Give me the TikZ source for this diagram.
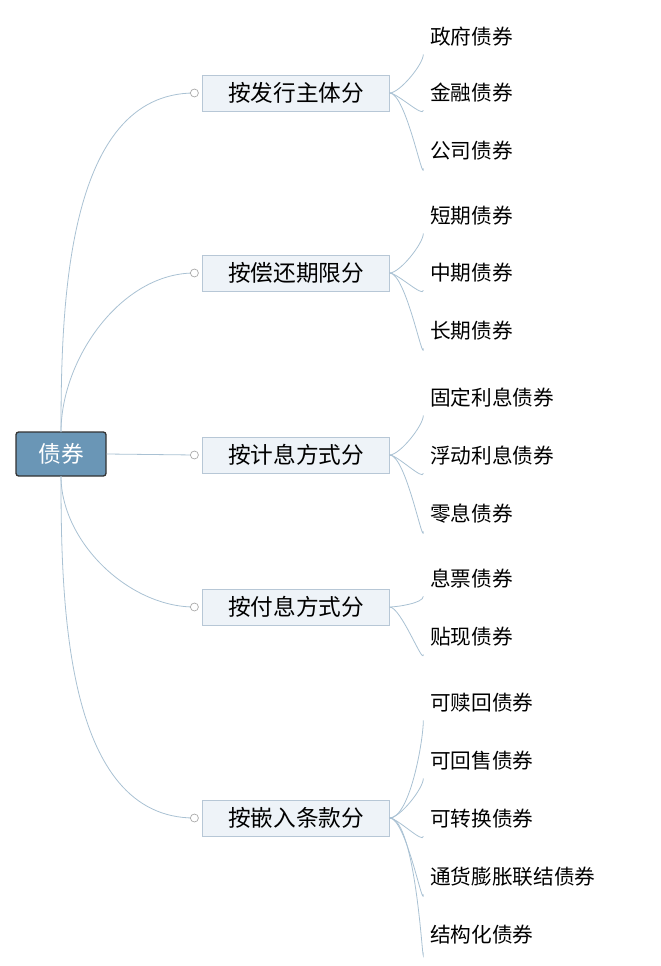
\documentclass[tikz,border=0pt]{standalone}
\usepackage{fontspec}
\setmainfont{Noto Sans CJK SC}
\begin{document}
\begin{tikzpicture}[x=0.75pt,y=-0.75pt,
  rootbox/.style={draw=black!80,line width=1pt,fill=rootblue,rounded corners=2pt,minimum width=67.5pt,minimum height=33pt,font=\fontsize{17}{20}\selectfont,text=white,inner sep=0pt},
  branchbox/.style={draw=boxline,fill=boxfill,minimum width=140pt,minimum height=27pt,font=\fontsize{17}{20}\selectfont,inner sep=0pt},
  leaf/.style={anchor=west,font=\fontsize{15.5}{18}\selectfont,inner sep=0pt},
  conn/.style={draw=connblue,line width=0.6pt},
  knob/.style={circle,draw=gray!70,fill=white,inner sep=0pt,minimum size=6pt,line width=0.5pt}]
\definecolor{rootblue}{HTML}{6A96B6}
\definecolor{boxfill}{HTML}{EEF3F8}
\definecolor{boxline}{HTML}{B7C7D6}
\definecolor{connblue}{HTML}{A9C1D3}
\useasboundingbox (0,0) rectangle (660,966);
\node[rootbox] (root) at (61,454) {债券};
\coordinate (rt) at (61,432);
\coordinate (rb) at (61,476);
\foreach \n/\y/\t in {b1/93/按发行主体分,b2/273/按偿还期限分,b3/455/按计息方式分,b4/607/按付息方式分,b5/818/按嵌入条款分}{
  \node[branchbox] (\n) at (296,\y) {\t};
  \coordinate (\n k) at ([xshift=-6pt]\n.west);
}
\draw[conn] (rt) to[out=90,in=180,looseness=0.9] (b1k);
\draw[conn] (rt) to[out=90,in=180,looseness=0.9] (b2k);
\draw[conn] (root.east) -- (b3k);
\draw[conn] (rb) to[out=-90,in=180,looseness=0.9] (b4k);
\draw[conn] (rb) to[out=-90,in=180,looseness=0.9] (b5k);
\foreach \n in {b1,b2,b3,b4,b5} \node[knob] at (\n k) {};
\foreach \b/\n/\y/\t in {
 b1/l1/37/政府债券,b1/l2/93/金融债券,b1/l3/151/公司债券,
 b2/l4/216/短期债券,b2/l5/273/中期债券,b2/l6/331/长期债券,
 b3/l7/398/固定利息债券,b3/l8/456/浮动利息债券,b3/l9/514/零息债券,
 b4/l10/579/息票债券,b4/l11/637/贴现债券,
 b5/l12/703/可赎回债券,b5/l13/761/可回售债券,b5/l14/819/可转换债券,b5/l15/877/通货膨胀联结债券,b5/l16/935/结构化债券}{
  \node[leaf] (\n) at (430,\y) {\t};
  \coordinate (\n e) at ([xshift=-5pt,yshift=-13pt]\n.west);
  \draw[conn] (\b.east) to[out=0,in=-90,looseness=0.5] ([yshift=0pt]\n e) -- ++(0,0);
}
\end{tikzpicture}
\end{document}
